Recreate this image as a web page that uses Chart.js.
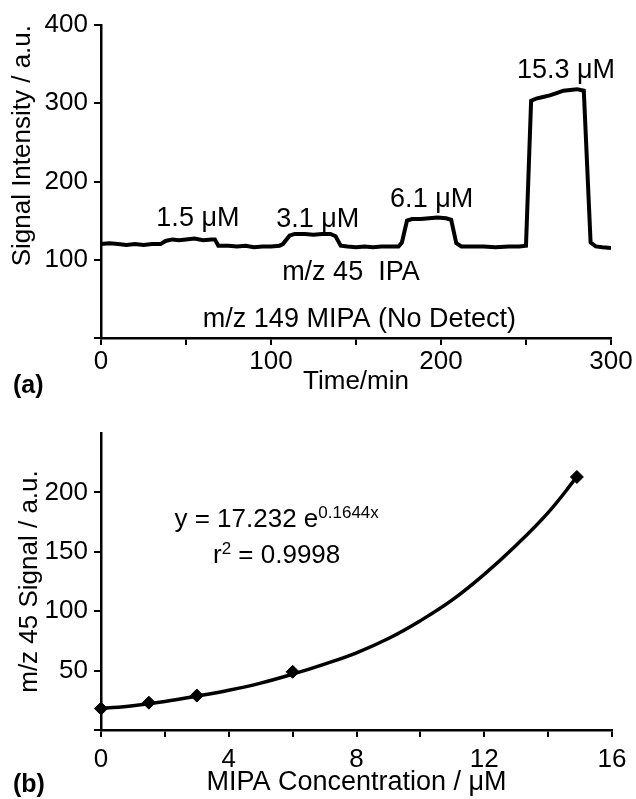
<!DOCTYPE html>
<html>
<head>
<meta charset="utf-8">
<script src="https://cdn.jsdelivr.net/npm/chart.js@4"></script>
<style>
body { margin: 0; background: #fff; }
.panel { position: absolute; left: 0; }
</style>
</head>
<body>
<div class="panel" style="top:0"><canvas id="chartA" width="636" height="400"></canvas></div>
<div class="panel" style="top:400px"><canvas id="chartB" width="636" height="399"></canvas></div>
<script>
// panel (a): m/z 45 trace vs time
const timeMin = [0, 5, 10, 15, 20, 25, 30, 35, 38, 42, 46, 50, 55, 60, 65, 67, 69, 75, 80, 85, 90, 95, 100, 105, 107, 111, 114, 120, 125, 130, 135, 138, 141, 145, 150, 155, 160, 165, 170, 175, 177, 180, 183, 188, 193, 198, 203, 206, 209, 212, 218, 225, 232, 240, 246, 250, 253, 256, 260, 264, 268, 272, 276, 280, 284, 288, 291, 295, 300];
const signal  = [120, 121, 120, 119, 120, 119, 120, 120, 124, 126, 125, 126, 127, 125, 126, 126, 118, 118, 117, 118, 116, 117, 117, 118, 120, 131, 133, 133, 132, 133, 133, 130, 118, 117, 116, 117, 116, 117, 117, 117, 122, 150, 152, 152, 153, 154, 153, 151, 121, 117, 117, 117, 116, 117, 117, 118, 303, 306, 308, 310, 313, 316, 317, 318, 316, 122, 117, 116, 115];
const timeTicks = [0, 100, 200, 300];
const signalTicks = [100, 200, 300, 400];

// panel (b): calibration points and fitted curve
const conc = [0, 1.5, 3.0, 6.0, 14.9];
const m45 = [18, 23, 29, 49, 213];
const fitConc = [0, 1, 2, 3, 4, 5, 6, 7, 8, 9, 10, 11, 12, 13, 14, 14.9];
const fitM45 = [18, 20.5, 24, 28.5, 33.5, 39.5, 47, 55.5, 65, 77, 92, 109.5, 131, 155.5, 183, 213];

const FONT = '"Liberation Sans", Arial, Helvetica, sans-serif';
Chart.defaults.font.family = FONT;
Chart.defaults.color = '#000';

const toXY = (xs, ys) => xs.map((x, i) => ({x: x, y: ys[i]}));

// text drawn at data positions
const textPlugin = (id, notes, extra) => ({
    id: id,
    afterDraw(chart) {
        const c = chart.ctx;
        const xs = chart.scales.x, ys = chart.scales.y;
        c.save();
        c.fillStyle = '#000';
        c.textAlign = 'center';
        c.textBaseline = 'alphabetic';
        c.font = '27px ' + FONT;
        notes.forEach(n => {
            c.fillText(n.text, xs.getPixelForValue(n.x), ys.getPixelForValue(n.y));
        });
        if (extra) extra(c, xs, ys);
        c.restore();
    }
});

const axisStyle = {
    border: {color: '#000', width: 2.5},
    grid: {drawOnChartArea: false, drawTicks: true, tickLength: 7, tickColor: '#000', lineWidth: 2}
};

// ---- (a)
const notesA = [
    {text: '1.5 μM', x: 57, y: 143},
    {text: '3.1 μM', x: 127.5, y: 142},
    {text: '6.1 μM', x: 194.5, y: 167},
    {text: '15.3 μM', x: 273.5, y: 332},
    {text: 'm/z 45  IPA', x: 147, y: 74},
    {text: 'm/z 149 MIPA (No Detect)', x: 152, y: 14}
];

new Chart(document.getElementById('chartA').getContext('2d'), {
    type: 'line',
    data: {
        datasets: [{
            data: toXY(timeMin, signal),
            borderColor: '#000',
            borderWidth: 4,
            pointRadius: 0,
            tension: 0
        }]
    },
    options: {
        responsive: false,
        animation: false,
        events: [],
        layout: {padding: {left: 0, top: 25, right: 25, bottom: 0}},
        plugins: {legend: {display: false}, tooltip: {enabled: false}},
        scales: {
            x: {
                type: 'linear', min: 0, max: 300,
                ...axisStyle,
                ticks: {stepSize: 50, padding: 1, font: {size: 26},
                    callback: v => timeTicks.includes(v) ? v : ''},
                title: {display: true, text: 'Time/min', font: {size: 26}, padding: {top: 0, bottom: 3}},
                afterFit: s => { s.height = 62; }
            },
            y: {
                type: 'linear', min: 0, max: 400,
                ...axisStyle,
                ticks: {stepSize: 100, padding: 6, font: {size: 26},
                    callback: v => signalTicks.includes(v) ? v : ''},
                title: {display: true, text: 'Signal Intensity / a.u.', align: 'end', font: {size: 26}, padding: {top: 7, bottom: 0}},
                afterFit: s => { s.width = 101; }
            }
        }
    },
    plugins: [textPlugin('notesA', notesA, (c) => {
        c.textAlign = 'left';
        c.font = 'bold 25px ' + FONT;
        c.fillText('(a)', 13, 393);
    })]
});

// ---- (b)
const drawFit = (c, xs, ys) => {
    const big = '26px ' + FONT, small = '17px ' + FONT;
    const line = (parts, cx, cy) => {
        let w = 0;
        parts.forEach(p => { c.font = p[1] ? small : big; w += c.measureText(p[0]).width; });
        let x = cx - w / 2;
        c.textAlign = 'left';
        parts.forEach(p => {
            c.font = p[1] ? small : big;
            c.fillText(p[0], x, cy - (p[1] ? 9 : 0));
            x += c.measureText(p[0]).width;
        });
    };
    line([['y = 17.232 e', false], ['0.1644x', true]], xs.getPixelForValue(5.5), ys.getPixelForValue(171));
    line([['r', false], ['2', true], [' = 0.9998', false]], xs.getPixelForValue(5.5), ys.getPixelForValue(140.5));
    c.font = 'bold 25px ' + FONT;
    c.fillText('(b)', 13, 392);
};

new Chart(document.getElementById('chartB').getContext('2d'), {
    type: 'line',
    data: {
        datasets: [{
            data: toXY(fitConc, fitM45),
            borderColor: '#000',
            borderWidth: 3.5,
            pointRadius: 0,
            tension: 0.4
        }, {
            data: toXY(conc, m45),
            showLine: false,
            pointStyle: 'rectRot',
            pointRadius: 6.5,
            backgroundColor: '#000',
            borderColor: '#000',
            clip: false
        }]
    },
    options: {
        responsive: false,
        animation: false,
        events: [],
        layout: {padding: {left: 0, top: 33, right: 24, bottom: 0}},
        plugins: {legend: {display: false}, tooltip: {enabled: false}},
        scales: {
            x: {
                type: 'linear', min: 0, max: 16,
                ...axisStyle,
                ticks: {stepSize: 2, padding: 7, font: {size: 26},
                    callback: v => v % 4 === 0 ? v : ''},
                title: {display: true, text: 'MIPA Concentration / μM', font: {size: 27}, padding: {top: 0, bottom: 0}},
                afterFit: s => { s.height = 69; }
            },
            y: {
                type: 'linear', min: 0, max: 250,
                ...axisStyle,
                grid: {...axisStyle.grid, tickColor: c => c.tick && c.tick.value === 250 ? 'rgba(0,0,0,0)' : '#000'},
                ticks: {stepSize: 50, padding: 6, font: {size: 26},
                    callback: v => (v > 0 && v < 250) ? v : ''},
                title: {display: true, text: 'm/z 45 Signal / a.u.', font: {size: 26}, padding: {top: 14, bottom: 0}},
                afterFit: s => { s.width = 101; }
            }
        }
    },
    plugins: [textPlugin('notesB', [], drawFit)]
});
</script>
</body>
</html>
